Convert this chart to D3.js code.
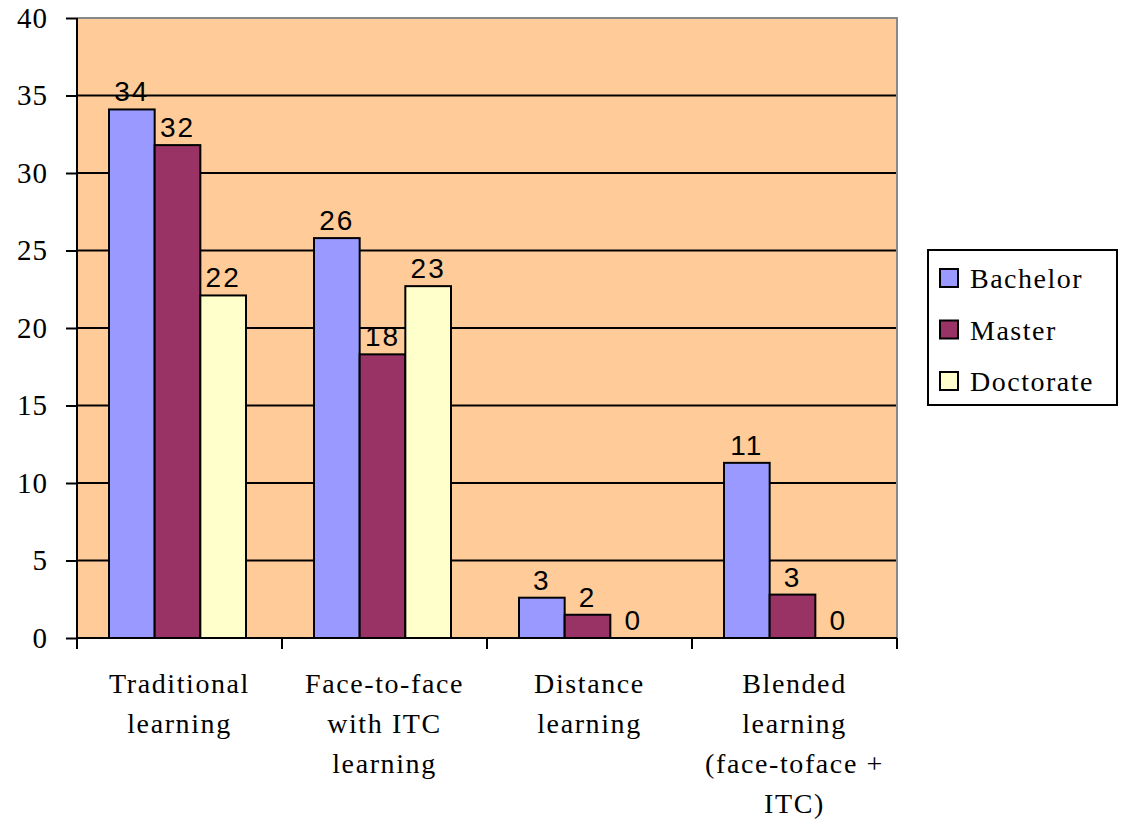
<!DOCTYPE html>
<html>
<head>
<meta charset="utf-8">
<script src="https://cdn.jsdelivr.net/npm/d3@7"></script>
<style>
  body { margin: 0; background: #fff; }
  .tick text { font-family: "Liberation Serif", "Times New Roman", serif; }
</style>
</head>
<body>
<svg width="1128" height="820"></svg>
<script>
// data ======================================================
const categories = [
  ["Traditional", "learning"],
  ["Face-to-face", "with ITC", "learning"],
  ["Distance", "learning"],
  ["Blended", "learning", "(face-toface +", "ITC)"]
];
const seriesNames = ["Bachelor", "Master", "Doctorate"];
const bachelor = [34.1, 25.8, 2.6, 11.3];
const master = [31.8, 18.3, 1.5, 2.8];
const doctorate = [22.1, 22.7, 0, 0];
const yTicks = [0, 5, 10, 15, 20, 25, 30, 35, 40];

const colors = ["#9999FF", "#993366", "#FFFFCC"];
const seriesValues = [bachelor, master, doctorate];

// layout ====================================================
const svg = d3.select("svg");
const margin = {left: 77, top: 18, right: 231, bottom: 182};
const width = 1128 - margin.left - margin.right,
      height = 820 - margin.top - margin.bottom;

const g = svg.append("g").attr("transform", `translate(${margin.left},${margin.top})`);

const x0 = d3.scaleBand().domain(d3.range(categories.length)).range([0, width]).paddingInner(0).paddingOuter(0);
const x1 = d3.scaleBand().domain(d3.range(seriesNames.length)).range([32, x0.bandwidth() - 36]);
const y = d3.scaleLinear().domain([0, 40]).range([height, 0]);

// plot background
g.append("rect")
  .attr("width", width).attr("height", height)
  .attr("fill", "#FFCC99");

// gridlines
g.append("g")
  .selectAll("line")
  .data(yTicks.filter(d => d > 0 && d < 40))
  .enter().append("line")
  .attr("x1", 0).attr("x2", width)
  .attr("y1", d => y(d)).attr("y2", d => y(d))
  .attr("stroke", "#000").attr("stroke-width", 2);

// top and right border
g.append("path")
  .attr("d", `M0,${y(40)}H${width}V${height}`)
  .attr("fill", "none").attr("stroke", "#888").attr("stroke-width", 2);

// bars
const groups = g.selectAll(".grp")
  .data(categories)
  .enter().append("g")
  .attr("class", "grp")
  .attr("transform", (d, i) => `translate(${x0(i)},0)`);

groups.selectAll("rect")
  .data((d, i) => seriesValues.map((s, j) => ({s: j, v: s[i]})))
  .enter().append("rect")
  .filter(d => d.v > 0)
  .attr("x", d => x1(d.s))
  .attr("width", x1.bandwidth())
  .attr("y", d => y(d.v))
  .attr("height", d => height - y(d.v))
  .attr("fill", d => colors[d.s])
  .attr("stroke", "#000").attr("stroke-width", 2);

// value labels
groups.selectAll("text.val")
  .data((d, i) => seriesValues.map((s, j) => ({s: j, v: s[i]})))
  .enter().append("text")
  .attr("class", "val")
  .attr("x", d => x1(d.s) + x1.bandwidth() / 2)
  .attr("y", d => y(d.v) - 8)
  .attr("text-anchor", "middle")
  .attr("font-family", "'Liberation Sans', Arial, sans-serif")
  .attr("font-size", 28)
  .attr("letter-spacing", 2)
  .attr("fill", "#000")
  .text(d => Math.round(d.v));

// y axis
const yAxis = g.append("g")
  .call(d3.axisLeft(y).tickValues(yTicks).tickSize(11).tickPadding(18));
yAxis.select(".domain").attr("stroke", "#000").attr("stroke-width", 2).attr("d", `M0,${height}V0`);
yAxis.selectAll(".tick line").attr("stroke-width", 2);
yAxis.selectAll(".tick text").attr("font-size", 29).attr("letter-spacing", 1).attr("fill", "#000");

// x axis
const xAxis = g.append("g").attr("transform", `translate(0,${height})`);
xAxis.append("line")
  .attr("x1", 0).attr("x2", width)
  .attr("stroke", "#000").attr("stroke-width", 2);
xAxis.selectAll("line.tk")
  .data(d3.range(categories.length + 1))
  .enter().append("line")
  .attr("class", "tk")
  .attr("x1", d => d * x0.bandwidth()).attr("x2", d => d * x0.bandwidth())
  .attr("y1", 0).attr("y2", 11)
  .attr("stroke", "#000").attr("stroke-width", 2);

xAxis.selectAll("text.cat")
  .data(categories)
  .enter().append("text")
  .attr("class", "cat")
  .attr("x", (d, i) => x0(i) + x0.bandwidth() / 2)
  .attr("y", 55)
  .attr("text-anchor", "middle")
  .attr("font-family", "'Liberation Serif', 'Times New Roman', serif")
  .attr("font-size", 28)
  .attr("letter-spacing", 1.6)
  .attr("fill", "#000")
  .selectAll("tspan")
  .data(d => d)
  .enter().append("tspan")
  .attr("x", function() { return this.parentNode.getAttribute("x"); })
  .attr("dy", (d, i) => i ? 40 : 0)
  .text(d => d);

// legend
const legend = svg.append("g").attr("transform", "translate(928,250)");
legend.append("rect")
  .attr("width", 189).attr("height", 155)
  .attr("fill", "#fff").attr("stroke", "#000").attr("stroke-width", 2);

const item = legend.selectAll(".item")
  .data(seriesNames)
  .enter().append("g")
  .attr("class", "item")
  .attr("transform", (d, i) => `translate(12,${28 + i * 51.5})`);

item.append("rect")
  .attr("y", -9).attr("width", 18).attr("height", 18)
  .attr("fill", (d, i) => colors[i])
  .attr("stroke", "#000").attr("stroke-width", 2);

item.append("text")
  .attr("x", 30).attr("y", 10)
  .attr("font-family", "'Liberation Serif', 'Times New Roman', serif")
  .attr("font-size", 28)
  .attr("letter-spacing", 1.5)
  .attr("fill", "#000")
  .text(d => d);
</script>
</body>
</html>
